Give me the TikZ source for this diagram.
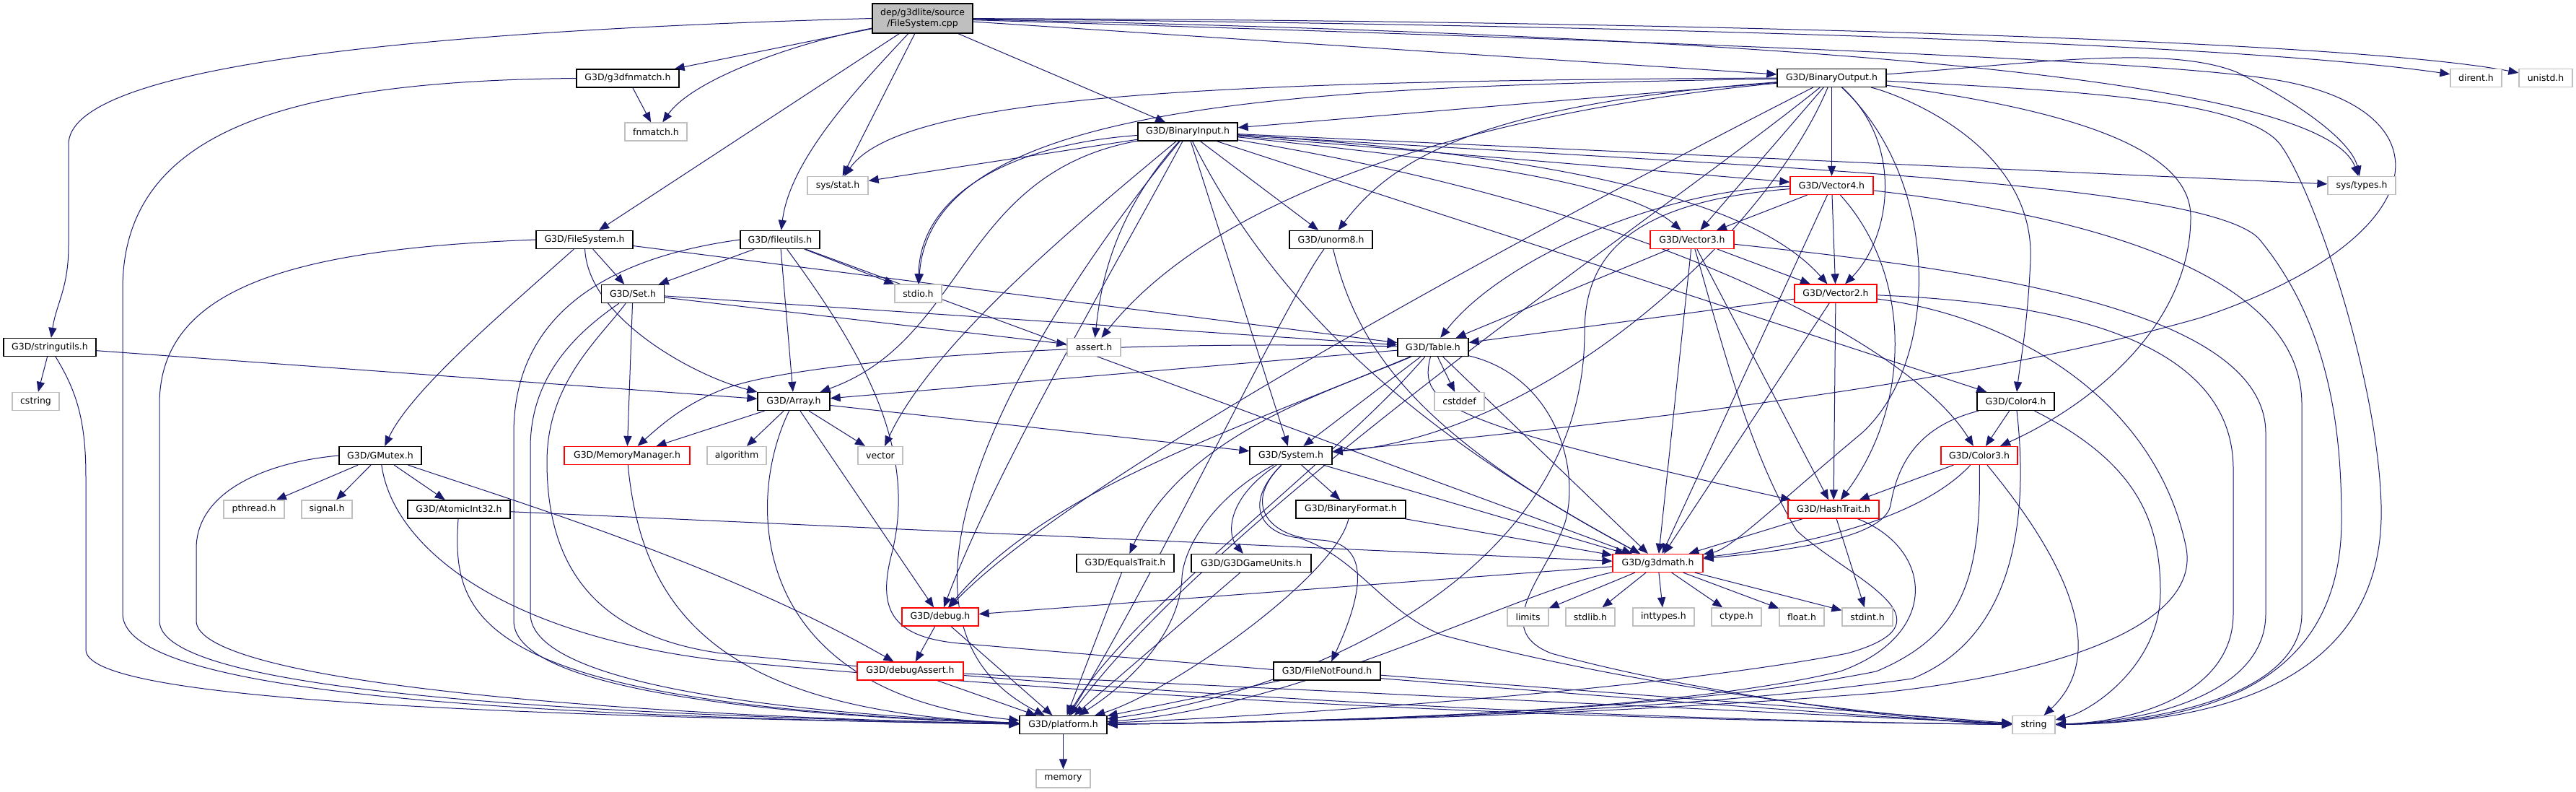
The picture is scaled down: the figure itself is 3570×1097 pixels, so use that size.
\documentclass[tikz,border=0pt]{standalone}
\usepackage{fontspec}
\newfontfamily\lsans{DejaVu Sans}
\usetikzlibrary{arrows.meta}
\pgfdeclarelayer{back}
\pgfdeclarelayer{bg}
\pgfsetlayers{back,bg,main}
\definecolor{edgeblue}{HTML}{191970}
\definecolor{extgray}{HTML}{BFBFBF}
\definecolor{rootgray}{HTML}{BFBFBF}
\definecolor{truncred}{HTML}{FF0000}
\tikzset{
  nbase/.style={rectangle, inner sep=0pt, minimum height=12.5pt, fill=white, line width=0.65pt, font=\lsans\fontsize{6.25}{7.3}\selectfont},
  doc/.style={nbase, draw=black},
  trunc/.style={nbase, draw=truncred},
  ext/.style={nbase, draw=extgray},
  wd/.style={minimum width=#1*0.5pt},
  dep/.style={draw=edgeblue, line width=0.5pt, -{Triangle[length=7pt,width=5.6pt]}},
}
\begin{document}
\begin{tikzpicture}[x=0.5pt,y=-0.5pt]
\begin{pgfonlayer}{back}
\fill[white] (0,0) rectangle (3570,1097);
\end{pgfonlayer}
\useasboundingbox (0,0) rectangle (3570,1097);
% ---------------- nodes
\node[doc, fill=rootgray, wd=139, minimum height=20.5pt, align=center] (root) at (1278.5,25.5) {dep/g3dlite/source\\/FileSystem.cpp};
\node[doc, wd=142] (fnm) at (870,108.5) {G3D/g3dfnmatch.h};
\node[doc, wd=151] (bout) at (2538.5,108) {G3D/BinaryOutput.h};
\node[ext, wd=71] (dirent) at (3431.5,108) {dirent.h};
\node[ext, wd=74] (unistd) at (3528,108) {unistd.h};
\node[ext, wd=86] (fnmatch) at (909,182.5) {fnmatch.h};
\node[doc, wd=138] (bin) at (1646,182.5) {G3D/BinaryInput.h};
\node[ext, wd=84] (sysstat) at (1161,257) {sys/stat.h};
\node[trunc, wd=115] (vfour) at (2538.5,257) {G3D/Vector4.h};
\node[ext, wd=94] (systypes) at (3273,257) {sys/types.h};
\node[doc, wd=134] (fsys) at (810,332) {G3D/FileSystem.h};
\node[doc, wd=110] (futil) at (1081,332) {G3D/fileutils.h};
\node[doc, wd=115] (unorm) at (1844.5,332) {G3D/unorm8.h};
\node[trunc, wd=116] (vthree) at (2345,332) {G3D/Vector3.h};
\node[doc, wd=87] (set) at (877,407) {G3D/Set.h};
\node[ext, wd=65] (stdio) at (1272.5,406.5) {stdio.h};
\node[trunc, wd=114] (vtwo) at (2544,406.5) {G3D/Vector2.h};
\node[doc, wd=128] (strut) at (69,481) {G3D/stringutils.h};
\node[ext, wd=74] (assert) at (1516,481) {assert.h};
\node[doc, wd=98] (table) at (1986,481) {G3D/Table.h};
\node[ext, wd=65] (cstring) at (49.5,556) {cstring};
\node[doc, wd=100] (array) at (1100,556) {G3D/Array.h};
\node[ext, wd=69] (cstddef) at (2022.5,556) {cstddef};
\node[doc, wd=107] (cfour) at (2793.5,556) {G3D/Color4.h};
\node[doc, wd=114] (gmutex) at (527,631) {G3D/GMutex.h};
\node[trunc, wd=174] (memmgr) at (869,631) {G3D/MemoryManager.h};
\node[ext, wd=82] (algo) at (1021,631) {algorithm};
\node[ext, wd=62] (vector) at (1220,631) {vector};
\node[doc, wd=114] (system) at (1789,631) {G3D/System.h};
\node[trunc, wd=106] (cthree) at (2743,631) {G3D/Color3.h};
\node[ext, wd=84] (pthread) at (352,705.5) {pthread.h};
\node[ext, wd=70] (signal) at (453,705.5) {signal.h};
\node[doc, wd=142] (atomic) at (636,705.5) {G3D/AtomicInt32.h};
\node[doc, wd=152] (binfmt) at (1872,705.5) {G3D/BinaryFormat.h};
\node[trunc, wd=126] (hash) at (2541,705.5) {G3D/HashTrait.h};
\node[doc, wd=135] (equals) at (1559.5,780) {G3D/EqualsTrait.h};
\node[doc, wd=166] (units) at (1734,780) {G3D/G3DGameUnits.h};
\node[trunc, wd=125] (gmath) at (2297.5,780) {G3D/g3dmath.h};
\node[trunc, wd=106] (debug) at (1303,854.5) {G3D/debug.h};
\node[ext, wd=57] (limits) at (2117.5,854.5) {limits};
\node[ext, wd=68] (stdlib) at (2204,854.5) {stdlib.h};
\node[ext, wd=85] (inttypes) at (2305.5,854.5) {inttypes.h};
\node[ext, wd=69] (ctype) at (2406.5,854.5) {ctype.h};
\node[ext, wd=62] (float) at (2497,854.5) {float.h};
\node[ext, wd=70] (stdint) at (2588,854.5) {stdint.h};
\node[trunc, wd=147] (dassert) at (1261.5,929.5) {G3D/debugAssert.h};
\node[doc, wd=148] (fnf) at (1839,929.5) {G3D/FileNotFound.h};
\node[doc, wd=121] (platform) at (1473.5,1004) {G3D/platform.h};
\node[ext, wd=59] (string) at (2818.5,1004) {string};
\node[ext, wd=75] (memory) at (1473.5,1078.5) {memory};
% ---------------- edges
\begin{pgfonlayer}{bg}
% root
\draw[dep] (root) -- (fnm);
\draw[dep] (root) .. controls (1100,60) and (960,110) .. (fnmatch);
\draw[dep] (root.west) .. controls (500,45) and (95,100) .. (95,200) -- (95,340) .. controls (95,400) and (78,420) .. (strut);
\draw[dep] (root) -- (fsys);
\draw[dep] (root) .. controls (1190,120) and (1095,220) .. (futil);
\draw[dep] (root) -- (sysstat);
\draw[dep] (root) -- (bin);
\draw[dep] (root) -- (bout);
\draw[dep] (root) .. controls (2300,35) and (3100,60) .. (dirent);
\draw[dep] (root) .. controls (2300,28) and (3250,55) .. (unistd);
\draw[dep] (root) .. controls (2500,50) and (3220,110) .. (systypes);
\draw[dep] (root) .. controls (2400,60) and (3000,85) .. (3150,110) .. controls (3400,150) and (3380,330) .. (3050,440) .. controls (2700,540) and (2200,590) .. (system);
% g3dfnmatch
\draw[dep] (fnm) -- (fnmatch);
\draw[dep] (fnm.west) .. controls (400,112) and (170,180) .. (170,400) -- (170,850) .. controls (170,960) and (700,992) .. (platform);
% stringutils
\draw[dep] (strut) -- (cstring);
\draw[dep] (strut) .. controls (105,540) and (119,580) .. (119,660) -- (119,900) .. controls (119,965) and (600,990) .. (platform);
\draw[dep] (strut) -- (array);
% FileSystem.h
\draw[dep] (fsys.west) .. controls (400,345) and (221,400) .. (221,560) -- (221,860) .. controls (221,950) and (700,988) .. (platform);
\draw[dep] (fsys) .. controls (700,430) and (570,540) .. (gmutex);
\draw[dep] (fsys) -- (set);
\draw[dep] (fsys) .. controls (815,440) and (960,520) .. (array);
\draw[dep] (fsys) -- (table);
% fileutils
\draw[dep] (futil.west) .. controls (820,360) and (712,450) .. (712,600) -- (712,860) .. controls (712,960) and (1100,992) .. (platform);
\draw[dep] (futil) -- (set);
\draw[dep] (futil) -- (array);
\draw[dep] (futil) -- (stdio);
\draw[dep] (futil) -- (gmath);
\draw[dep] (futil) .. controls (1190,480) and (1275,620) .. (1235,770) .. controls (1215,850) and (1240,885) .. (1340,892) .. controls (1900,940) and (2600,995) .. (string);
% Set
\draw[dep] (set) .. controls (800,460) and (735,520) .. (735,620) -- (735,850) .. controls (735,950) and (1100,988) .. (platform);
\draw[dep] (set) .. controls (830,470) and (758,530) .. (758,640) .. controls (758,780) and (820,880) .. (1000,905) .. controls (1800,985) and (2500,1000) .. (string);
\draw[dep] (set) -- (memmgr);
\draw[dep] (set) -- (assert);
\draw[dep] (set) -- (table);
% Table
\draw[dep] (table) -- (cstddef);
\draw[dep] (table) -- (array);
\draw[dep] (table) .. controls (1500,470) and (1100,500) .. (1000,540) .. controls (950,560) and (920,585) .. (memmgr);
\draw[dep] (table) .. controls (1700,600) and (1450,680) .. (debug);
\draw[dep] (table) .. controls (1850,640) and (1560,850) .. (platform);
\draw[dep] (table) -- (system);
\draw[dep] (table) -- (gmath);
\draw[dep] (table) .. controls (1850,540) and (1640,600) .. (equals);
\draw[dep] (table) .. controls (1965,560) and (2000,585) .. (hash);
\draw[dep] (table) .. controls (2150,520) and (2190,640) .. (2170,720) .. controls (2150,790) and (2060,870) .. (2150,905) .. controls (2350,960) and (2650,1000) .. (string);
% Array
\draw[dep] (array) -- (memmgr);
\draw[dep] (array) -- (algo);
\draw[dep] (array) -- (vector);
\draw[dep] (array) -- (system);
\draw[dep] (array) .. controls (1030,700) and (1040,960) .. (platform);
\draw[dep] (array) -- (debug);
% GMutex
\draw[dep] (gmutex) -- (pthread);
\draw[dep] (gmutex) -- (signal);
\draw[dep] (gmutex) -- (atomic);
\draw[dep] (gmutex.west) .. controls (370,640) and (272,680) .. (272,760) -- (272,860) .. controls (272,940) and (800,990) .. (platform);
\draw[dep] (gmutex) .. controls (700,690) and (1000,780) .. (dassert);
\draw[dep] (gmutex) .. controls (545,760) and (700,880) .. (1000,915) .. controls (1800,990) and (2500,1000) .. (string);
% AtomicInt32
\draw[dep] (atomic) .. controls (625,860) and (660,975) .. (platform);
\draw[dep] (atomic) -- (gmath);
% MemoryManager, debug, debugAssert
\draw[dep] (memmgr) .. controls (890,850) and (1000,985) .. (platform);
\draw[dep] (debug) -- (dassert);
\draw[dep] (debug) -- (platform);
\draw[dep] (dassert) -- (platform);
\draw[dep] (dassert) -- (string);
% EqualsTrait, G3DGameUnits
\draw[dep] (equals) -- (platform);
\draw[dep] (units) -- (platform);
% System
\draw[dep] (system) -- (binfmt);
\draw[dep] (system) .. controls (1700,690) and (1700,740) .. (units);
\draw[dep] (system) .. controls (1720,700) and (1760,745) .. (1830,748) .. controls (1900,752) and (1890,820) .. (fnf);
\draw[dep] (system) .. controls (1720,700) and (1750,740) .. (1800,745) .. controls (1880,770) and (1920,850) .. (2000,880) .. controls (2300,960) and (2650,995) .. (string);
\draw[dep] (system) .. controls (1680,690) and (1640,760) .. (1638,800) .. controls (1635,880) and (1560,950) .. (platform);
\draw[dep] (system) -- (gmath);
% BinaryFormat, FileNotFound
\draw[dep] (binfmt) -- (gmath);
\draw[dep] (binfmt) .. controls (1850,800) and (1620,960) .. (platform);
\draw[dep] (fnf) -- (platform);
\draw[dep] (fnf) -- (string);
% g3dmath
\draw[dep] (gmath) -- (limits);
\draw[dep] (gmath) -- (stdlib);
\draw[dep] (gmath) -- (inttypes);
\draw[dep] (gmath) -- (ctype);
\draw[dep] (gmath) -- (float);
\draw[dep] (gmath) -- (stdint);
\draw[dep] (gmath) -- (debug);
\draw[dep] (gmath) .. controls (2100,820) and (1800,980) .. (platform);
% HashTrait
\draw[dep] (hash) -- (gmath);
\draw[dep] (hash) -- (stdint);
\draw[dep] (hash) .. controls (2680,760) and (2690,880) .. (2550,930) .. controls (2300,990) and (1800,1000) .. (platform);
% unorm8
\draw[dep] (unorm) .. controls (1780,420) and (1600,800) .. (platform);
\draw[dep] (unorm) .. controls (1880,480) and (1960,600) .. (gmath);
% Vector4
\draw[dep] (vfour) -- (vthree);
\draw[dep] (vfour) -- (vtwo);
\draw[dep] (vfour) .. controls (2300,262) and (2080,360) .. (table);
\draw[dep] (vfour) .. controls (2250,280) and (2196,360) .. (2196,460) .. controls (2196,800) and (1800,960) .. (platform);
\draw[dep] (vfour) -- (gmath);
\draw[dep] (vfour) .. controls (2650,380) and (2650,560) .. (hash);
\draw[dep] (vfour) .. controls (2900,300) and (3190,380) .. (3190,560) -- (3190,850) .. controls (3190,960) and (3000,1000) .. (string);
% Vector3
\draw[dep] (vthree) -- (vtwo);
\draw[dep] (vthree) -- (table);
\draw[dep] (vthree) -- (gmath);
\draw[dep] (vthree) -- (hash);
\draw[dep] (vthree) .. controls (2380,450) and (2420,620) .. (2490,735) .. controls (2560,800) and (2720,860) .. (2560,905) .. controls (2300,955) and (1800,990) .. (platform);
\draw[dep] (vthree) .. controls (2700,370) and (3140,420) .. (3140,600) -- (3140,850) .. controls (3140,960) and (2980,1000) .. (string);
% Vector2
\draw[dep] (vtwo) -- (table);
\draw[dep] (vtwo) -- (gmath);
\draw[dep] (vtwo) -- (hash);
\draw[dep] (vtwo) .. controls (2880,420) and (3095,480) .. (3095,650) -- (3095,850) .. controls (3095,960) and (2960,1000) .. (string);
\draw[dep] (vtwo) .. controls (2800,440) and (2990,560) .. (3030,760) .. controls (3050,880) and (2800,940) .. (2600,960) .. controls (2200,992) and (1800,1000) .. (platform);
% Color4
\draw[dep] (cfour) -- (cthree);
\draw[dep] (cfour) .. controls (2810,700) and (2800,880) .. (2650,940) .. controls (2300,990) and (1800,1000) .. (platform);
\draw[dep] (cfour) .. controls (2660,590) and (2630,640) .. (2620,700) .. controls (2610,750) and (2450,765) .. (gmath);
\draw[dep] (cfour) .. controls (2960,640) and (2994,720) .. (2994,820) .. controls (2994,920) and (2900,985) .. (string);
% Color3
\draw[dep] (cthree) -- (hash);
\draw[dep] (cthree) .. controls (2660,720) and (2500,755) .. (gmath);
\draw[dep] (cthree) .. controls (2746,800) and (2720,880) .. (2600,930) .. controls (2300,990) and (1800,1000) .. (platform);
\draw[dep] (cthree) .. controls (2850,760) and (2930,900) .. (string);
% BinaryInput
\draw[dep] (bin) -- (sysstat);
\draw[dep] (bin) .. controls (1400,200) and (1275,270) .. (stdio);
\draw[dep] (bin) .. controls (1330,240) and (1340,470) .. (array);
\draw[dep] (bin) .. controls (1540,300) and (1525,400) .. (assert);
\draw[dep] (bin) .. controls (1480,320) and (1290,480) .. (vector);
\draw[dep] (bin) .. controls (1450,420) and (1170,850) .. (platform);
\draw[dep] (bin) .. controls (1540,380) and (1380,650) .. (debug);
\draw[dep] (bin) -- (system);
\draw[dep] (bin) .. controls (1780,450) and (2000,620) .. (gmath);
\draw[dep] (bin) -- (unorm);
\draw[dep] (bin) .. controls (2000,220) and (2250,250) .. (vthree);
\draw[dep] (bin) -- (vfour);
\draw[dep] (bin) .. controls (2250,220) and (2450,300) .. (vtwo);
\draw[dep] (bin) .. controls (2300,290) and (2650,480) .. (cthree);
\draw[dep] (bin) -- (cfour);
\draw[dep] (bin) -- (systypes);
\draw[dep] (bin) .. controls (2400,230) and (3050,250) .. (3130,330) .. controls (3230,450) and (3245,600) .. (3245,720) .. controls (3245,920) and (3100,1000) .. (string);
% BinaryOutput
\draw[dep] (bout) -- (vfour);
\draw[dep] (bout) -- (vthree);
\draw[dep] (bout) .. controls (2640,200) and (2620,330) .. (vtwo);
\draw[dep] (bout) .. controls (2690,250) and (2690,500) .. (2580,600) .. controls (2460,700) and (2400,760) .. (gmath);
\draw[dep] (bout) -- (bin);
\draw[dep] (bout.west) .. controls (1700,112) and (1250,130) .. (sysstat);
\draw[dep] (bout) .. controls (1800,120) and (1290,140) .. (stdio);
\draw[dep] (bout) .. controls (2100,150) and (1700,250) .. (assert);
\draw[dep] (bout) .. controls (2050,145) and (1930,220) .. (unorm);
\draw[dep] (bout) .. controls (2200,280) and (1500,650) .. (debug);
\draw[dep] (bout) .. controls (2450,320) and (2150,600) .. (system);
\draw[dep] (bout) .. controls (2630,130) and (2820,200) .. (2814,360) .. controls (2810,450) and (2800,500) .. (cfour);
\draw[dep] (bout) .. controls (2850,150) and (3036,200) .. (3036,300) .. controls (3036,450) and (2900,560) .. (cthree);
\draw[dep] (bout) .. controls (2800,90) and (3000,60) .. (3100,100) .. controls (3200,150) and (3260,200) .. (systypes);
\draw[dep] (bout) .. controls (2300,300) and (1700,700) .. (platform);
\draw[dep] (bout) .. controls (2850,125) and (3110,135) .. (3160,200) .. controls (3205,260) and (3295,520) .. (3300,700) .. controls (3305,900) and (3150,1000) .. (string);
% platform
\draw[dep] (platform) -- (memory);
\end{pgfonlayer}
\end{tikzpicture}
\end{document}
